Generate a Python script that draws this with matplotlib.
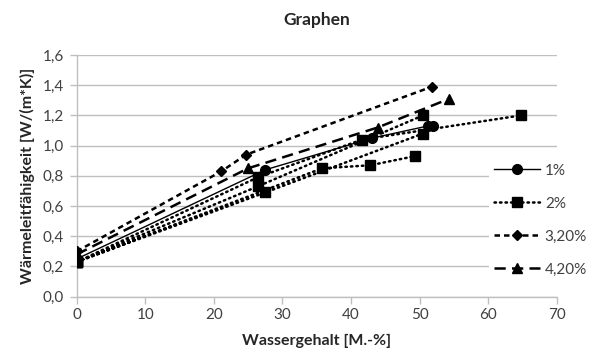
import numpy as np
import matplotlib
matplotlib.use("Agg")
import matplotlib.pyplot as plt
from matplotlib.lines import Line2D

plt.rcParams['font.family'] = ['Lato', 'DejaVu Sans']

# Wassergehalt [M.-%] / Wärmeleitfähigkeit [W/(m*K)]; NaN trennt die Messreihen
x_1 = [0, 27.5, 43.1, 51.2, 51.9]
y_1 = [0.25, 0.84, 1.05, 1.13, 1.13]

x_2 = [0, 26.4, 41.6, 64.8, np.nan,
       0, 26.4, 50.5, np.nan,
       0, 27.5, 50.5, np.nan,
       0, 35.8, 42.8, 49.3]
y_2 = [0.23, 0.79, 1.04, 1.20, np.nan,
       0.23, 0.73, 1.20, np.nan,
       0.23, 0.69, 1.08, np.nan,
       0.23, 0.85, 0.87, 0.93]

x_32 = [0, 21.1, 24.7, 51.8]
y_32 = [0.30, 0.83, 0.94, 1.39]

x_42 = [0, 25.0, 43.9, 54.3]
y_42 = [0.28, 0.85, 1.12, 1.31]

labels = ['1%', '2%', '3,20%', '4,20%']
x_ticks = [0, 10, 20, 30, 40, 50, 60, 70]
y_ticks = [0.0, 0.2, 0.4, 0.6, 0.8, 1.0, 1.2, 1.4, 1.6]

fig = plt.figure(figsize=(5.95, 3.58), dpi=100)
ax = fig.add_axes([0.1289, 0.1712, 0.8067, 0.6752])

grid_c = '#bfbfbf'
styles = [
    dict(ls='-', lw=1.0, marker='o', ms=7),
    dict(ls=(0, (0.6, 1.6)), lw=1.8, marker='s', ms=7, dash_capstyle='round'),
    dict(ls=(0, (2.2, 1.6)), lw=1.8, marker='D', ms=5),
    dict(ls=(0, (4.5, 2.5)), lw=1.8, marker='^', ms=7),
]
series = [(x_1, y_1), (x_2, y_2), (x_32, y_32), (x_42, y_42)]
handles = []
for (xs, ys), st, lab in zip(series, styles, labels):
    ax.plot(xs, ys, color='black', mfc='black', mec='black', zorder=3, **st)
    handles.append(Line2D([], [], color='black', mfc='black', mec='black', **st))

ax.set_xlim(0, 70)
ax.set_ylim(0, 1.6)
ax.set_xticks(x_ticks)
ax.set_yticks(y_ticks)
ax.set_xticklabels([str(v) for v in x_ticks])
ax.set_yticklabels([f"{v:.1f}".replace('.', ',') for v in y_ticks])
ax.yaxis.grid(True, color=grid_c, lw=1.0)
ax.set_axisbelow(True)
for s in ['top', 'right']:
    ax.spines[s].set_visible(False)
for s in ['left', 'bottom']:
    ax.spines[s].set_color(grid_c)
    ax.spines[s].set_linewidth(1.0)
ax.tick_params(axis='both', colors=grid_c, length=5, width=1.0, labelsize=11,
               labelcolor='#404040')
ax.tick_params(axis='x', pad=3)
ax.tick_params(axis='y', pad=4)

ax.set_xlabel('Wassergehalt [M.-%]', fontsize=11.5, fontweight='bold', color='#262626', labelpad=9)
ax.set_ylabel('Wärmeleitfähigkeit [W/(m*K)]', fontsize=11.5, fontweight='bold', color='#262626', labelpad=6)
fig.text(0.533, 0.945, 'Graphen', ha='center', va='center', fontsize=12.5,
         fontweight='bold', color='#262626')

leg = fig.legend(handles, labels, loc='upper left', bbox_to_anchor=(0.822, 0.556),
                 frameon=True, facecolor='white', edgecolor='none', framealpha=1,
                 fontsize=11, handlelength=3.0, numpoints=1, labelspacing=1.25,
                 handletextpad=0.35, borderpad=0.3, borderaxespad=0)
for t in leg.get_texts():
    t.set_color('#404040')

fig.savefig('out.png', dpi=100)
